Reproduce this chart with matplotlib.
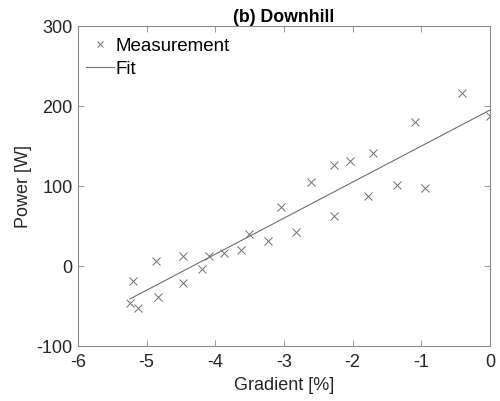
import numpy as np
import matplotlib
matplotlib.use("Agg")
import matplotlib.pyplot as plt

plt.rcParams['font.family'] = ['Liberation Sans', 'DejaVu Sans']
plt.rcParams['axes.unicode_minus'] = False

# Downhill measurements: road gradient [%] vs. rider power [W]
gradient = [0.0, -0.41, -1.09, -1.70, -2.04, -2.27, -2.61, -1.36, -0.94, -1.77,
            -3.04, -2.27, -2.82, -3.51, -3.23, -3.63, -3.88, -4.09, -4.19, -4.47,
            -4.47, -4.86, -4.84, -5.20, -5.24, -5.12]
power = [187, 216, 180, 141, 131, 126, 105, 101, 98, 88,
         74, 63, 43, 40, 31, 20, 16, 13, -4, 13,
         -21, 6, -39, -19, -46, -52]

# linear fit
slope, intercept = np.polyfit(gradient, power, 1)
xfit = np.array([min(gradient), max(gradient)])
yfit = slope * xfit + intercept

fig = plt.figure(figsize=(5.0, 4.01), dpi=100)
ax = fig.add_axes([0.156, 0.137, 0.824, 0.798])

ax.plot(gradient, power, 'x', color='#707070', markersize=6, markeredgewidth=0.7,
        label='Measurement')
ax.plot(xfit, yfit, '-', color='#707070', linewidth=0.8, label='Fit')

ax.set_xlim(-6, 0)
ax.set_ylim(-100, 300)
ax.set_xticks(range(-6, 1))
ax.set_yticks([-100, 0, 100, 200, 300])

for s in ax.spines.values():
    s.set_color('#8a8a8a')
    s.set_linewidth(0.8)
ax.tick_params(axis='both', which='both', direction='in', length=4, width=0.6,
               colors='#8a8a8a', labelcolor='#262626', labelsize=13,
               top=True, right=True)
ax.tick_params(axis='x', pad=6)
ax.tick_params(axis='y', pad=4)

ax.set_xlabel('Gradient [%]', fontsize=13, color='#262626', labelpad=4)
ax.set_ylabel('Power [W]', fontsize=13, color='#262626', labelpad=3)
ax.set_title('(b) Downhill', fontsize=12.8, fontweight='bold', pad=1)

ax.legend(loc='upper left', frameon=False, fontsize=13.5, handlelength=1.45,
          handletextpad=0.1, borderaxespad=0.0, labelspacing=0.3,
          borderpad=0.45, markerscale=0.75, bbox_to_anchor=(0.0, 0.99))

fig.savefig('out.png', dpi=100)
